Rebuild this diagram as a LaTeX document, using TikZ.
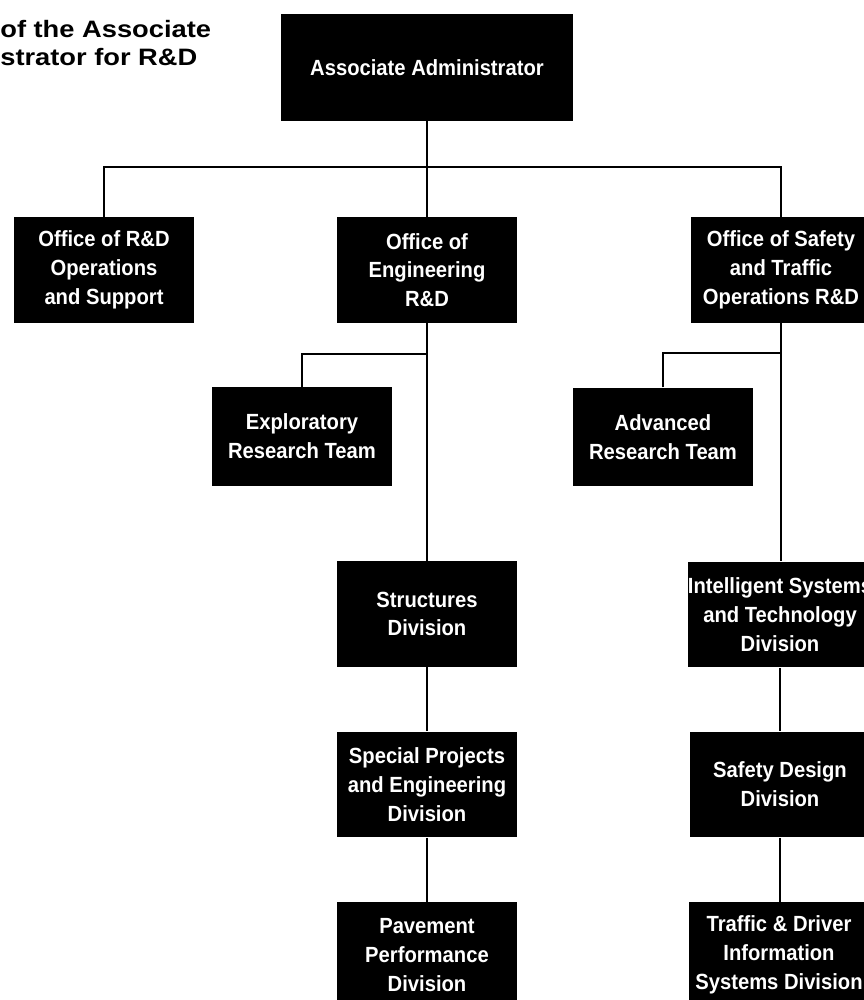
\documentclass[tikz,border=0pt]{standalone}
\usepackage{fontspec}
\setmainfont{Liberation Sans}
\newfontfamily\boxfont{Liberation Sans}[FakeStretch=0.92]
\newfontfamily\titlefont{Liberation Sans}[FakeStretch=1.15]
\usepackage{tikz}

\tikzset{
  orgbox/.style={fill=black, text=white, align=center, inner sep=0pt,
    minimum width=3.6cm, minimum height=2.12cm,
    font=\boxfont\bfseries\fontsize{12.5}{16.4}\selectfont},
  teambox/.style={orgbox, minimum height=1.97cm},
  link/.style={line width=0.8pt}
}

\begin{document}
\begin{tikzpicture}[x=0.02cm, y=-0.02cm]
      \useasboundingbox (0,0) rectangle (864,1000);
      \clip (0,0) rectangle (864,1000);

      % Title (cut at the left edge)
      \node[anchor=north west, inner sep=0pt, align=left,
        font=\titlefont\bfseries\fontsize{13.5}{15.9}\selectfont] (title) at (0,20)
        {of the Associate\\strator for R\&D};

      % Top level
      \node[orgbox, minimum width=5.84cm, minimum height=2.14cm] (admin) at (427,67.5) {Associate Administrator};

      % Offices
      \node[orgbox] (ops) at (104,270) {Office of R\&D\\Operations\\and Support};
      \node[orgbox] (eng) at (427,270) {Office of\\Engineering\\R\&D};
      \node[orgbox] (safety) at (781,270) {Office of Safety\\and Traffic\\Operations R\&D};

      % Teams
      \node[teambox] (explor) at (302,436.5) {Exploratory\\Research Team};
      \node[teambox] (adv) at (663,437) {Advanced\\Research Team};

      % Engineering divisions
      \node[orgbox] (struct) at (427,614) {Structures\\Division};
      \node[orgbox] (special) at (427,784.5) {Special Projects\\and Engineering\\Division};
      \node[orgbox] (pave) at (427,955) {Pavement\\Performance\\Division};

      % Safety divisions
      \node[orgbox] (intel) at (780,614.5) {Intelligent Systems\\and Technology\\Division};
      \node[orgbox] (safedes) at (780,784.5) {Safety Design\\Division};
      \node[orgbox] (traffic) at (779,955) {Traffic \& Driver\\Information\\Systems Division};

      % Branch points
      \coordinate (bar) at (427,167);
      \coordinate (engfork) at (427,354);
      \coordinate (safefork) at (781,353);

      % Connectors
      \draw[link] (admin) -- (eng);
      \draw[link] (ops.north) |- (bar) -| (safety.north);
      \draw[link] (eng) -- (struct);
      \draw[link] (explor.north) |- (engfork);
      \draw[link] (struct) -- (special);
      \draw[link] (special) -- (pave);
      \draw[link] (safety.south) -- (intel.north -| safety.south);
      \draw[link] (adv.north) |- (safefork);
      \draw[link] (intel) -- (safedes);
      \draw[link] (safedes) -- (traffic.north -| safedes.south);
  \end{tikzpicture}
\end{document}
